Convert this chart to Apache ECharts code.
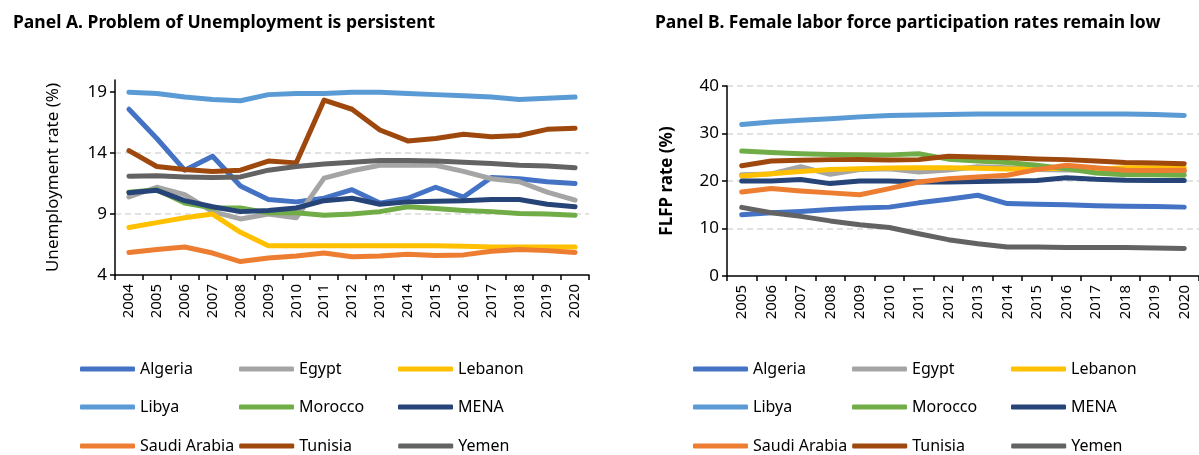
<!DOCTYPE html>
<html>
<head>
<meta charset="utf-8">
<script src="https://cdn.jsdelivr.net/npm/echarts@6/dist/echarts.min.js"></script>
<style>
  html, body { margin: 0; padding: 0; background: #fff; }
  #chart { width: 1199px; height: 455px; }
</style>
</head>
<body>
<div id="chart"></div>
<script>
// categories
const yearsA = ['2004', '2005', '2006', '2007', '2008', '2009', '2010', '2011', '2012', '2013', '2014', '2015', '2016', '2017', '2018', '2019', '2020'];
const yearsB = ['2005', '2006', '2007', '2008', '2009', '2010', '2011', '2012', '2013', '2014', '2015', '2016', '2017', '2018', '2019', '2020'];
const names = ['Algeria', 'Egypt', 'Lebanon', 'Libya', 'Morocco', 'MENA', 'Saudi Arabia', 'Tunisia', 'Yemen'];
const colors = ['#4472C4', '#A5A5A5', '#FFC000', '#5B9BD5', '#70AD47', '#264478', '#ED7D31', '#9E480E', '#636363'];
const ticksA = [4, 9, 14, 19];

// Panel A: unemployment rate (%)
const unempAlgeria = [17.6, 15.2, 12.6, 13.75, 11.3, 10.2, 10.0, 10.3, 11.0, 9.9, 10.3, 11.2, 10.4, 12.0, 11.9, 11.65, 11.5];
const unempEgypt = [10.4, 11.2, 10.6, 9.2, 8.6, 9.0, 8.7, 11.95, 12.55, 13.0, 13.0, 13.0, 12.5, 11.9, 11.65, 10.8, 10.15];
const unempLebanon = [7.9, 8.3, 8.7, 9.0, 7.5, 6.4, 6.4, 6.4, 6.4, 6.4, 6.4, 6.4, 6.35, 6.3, 6.3, 6.3, 6.3];
const unempLibya = [19.0, 18.9, 18.6, 18.4, 18.3, 18.8, 18.9, 18.9, 19.0, 19.0, 18.9, 18.8, 18.7, 18.6, 18.4, 18.5, 18.6];
const unempMorocco = [10.8, 11.0, 9.9, 9.5, 9.5, 9.1, 9.1, 8.9, 9.0, 9.2, 9.6, 9.45, 9.3, 9.2, 9.05, 9.0, 8.9];
const unempMENA = [10.75, 10.95, 10.1, 9.6, 9.2, 9.3, 9.5, 10.1, 10.3, 9.8, 10.0, 10.05, 10.1, 10.2, 10.2, 9.8, 9.6];
const unempSaudi = [5.85, 6.1, 6.3, 5.8, 5.1, 5.4, 5.55, 5.8, 5.5, 5.55, 5.7, 5.6, 5.65, 5.95, 6.1, 6.0, 5.85];
const unempTunisia = [14.2, 12.9, 12.65, 12.5, 12.6, 13.35, 13.2, 18.35, 17.6, 15.9, 15.0, 15.2, 15.55, 15.35, 15.45, 15.95, 16.05];
const unempYemen = [12.1, 12.15, 12.05, 12.0, 12.05, 12.6, 12.9, 13.1, 13.25, 13.4, 13.4, 13.35, 13.25, 13.15, 13.0, 12.95, 12.8];

// Panel B: female labour force participation rate (%)
const flfpAlgeria = [12.9, 13.3, 13.6, 14.0, 14.3, 14.5, 15.4, 16.15, 17.0, 15.25, 15.1, 15.0, 14.8, 14.7, 14.65, 14.5];
const flfpEgypt = [21.3, 21.5, 23.0, 21.4, 22.4, 22.6, 21.9, 22.3, 23.0, 22.8, 22.4, 22.3, 22.2, 22.0, 22.0, 22.0];
const flfpLebanon = [21.05, 21.55, 22.0, 22.4, 22.6, 22.75, 22.8, 22.8, 22.7, 22.55, 22.6, 22.7, 22.5, 22.8, 22.8, 22.8];
const flfpLibya = [31.9, 32.4, 32.8, 33.1, 33.5, 33.8, 33.9, 34.0, 34.1, 34.1, 34.1, 34.1, 34.1, 34.1, 34.0, 33.8];
const flfpMorocco = [26.3, 26.0, 25.75, 25.6, 25.55, 25.5, 25.75, 24.6, 24.2, 23.9, 23.3, 22.6, 21.7, 21.3, 21.3, 21.2];
const flfpMENA = [20.0, 20.0, 20.3, 19.45, 20.0, 20.0, 19.8, 19.8, 19.9, 20.0, 20.1, 20.7, 20.35, 20.15, 20.1, 20.1];
const flfpSaudi = [17.7, 18.4, 17.9, 17.5, 17.1, 18.4, 19.8, 20.5, 20.85, 21.2, 22.4, 23.3, 22.8, 22.25, 22.2, 22.25];
const flfpTunisia = [23.2, 24.2, 24.35, 24.5, 24.55, 24.4, 24.5, 25.2, 25.05, 24.9, 24.65, 24.5, 24.2, 23.9, 23.8, 23.65];
const flfpYemen = [14.45, 13.3, 12.55, 11.6, 10.8, 10.2, 8.9, 7.65, 6.8, 6.1, 6.1, 6.0, 6.0, 6.0, 5.9, 5.8];

const dataA = [unempAlgeria, unempEgypt, unempLebanon, unempLibya, unempMorocco, unempMENA, unempSaudi, unempTunisia, unempYemen];
const dataB = [flfpAlgeria, flfpEgypt, flfpLebanon, flfpLibya, flfpMorocco, flfpMENA, flfpSaudi, flfpTunisia, flfpYemen];

const FONT = 'Noto Sans';
const chart = echarts.init(document.getElementById('chart'));

const makeSeries = (data, idx) => data.map((vals, i) => ({
  name: names[i],
  type: 'line',
  xAxisIndex: idx,
  yAxisIndex: idx,
  data: vals,
  color: colors[i],
  symbol: 'none',
  lineStyle: { width: 5, cap: 'round', join: 'round' },
  animation: false
}));

// 3 legend rows per panel, so the columns line up like the original
const rowsTop = [359, 397, 436];
const makeLegends = (left) => [0, 1, 2].map(r => ({
  left: left,
  top: rowsTop[r],
  padding: 0,
  orient: 'horizontal',
  data: names.slice(r * 3, r * 3 + 3),
  icon: 'roundRect',
  itemWidth: 55,
  itemHeight: 5,
  itemGap: 5,
  selectedMode: false,
  textStyle: { fontFamily: FONT, fontSize: 16, color: '#000', width: 94, lineHeight: 20 }
}));

const xAxisBase = (data, grid) => ({
  type: 'category',
  gridIndex: grid,
  data: data,
  boundaryGap: true,
  axisLine: { lineStyle: { color: '#000', width: 1.5 } },
  axisTick: { show: true, length: 5, interval: 0, lineStyle: { color: '#000', width: 1.5 } },
  axisLabel: { rotate: 90, interval: 0, color: '#000', fontFamily: FONT, fontSize: 15, margin: 9 },
  splitLine: { show: false }
});

const option = {
  backgroundColor: '#fff',
  title: [
    { text: 'Panel A. Problem of Unemployment is persistent', left: 8, top: 9,
      textStyle: { fontFamily: FONT, fontSize: 17.5, fontWeight: 'bold', color: '#000' } },
    { text: 'Panel B. Female labor force participation rates remain low', left: 650, top: 9,
      textStyle: { fontFamily: FONT, fontSize: 17.5, fontWeight: 'bold', color: '#000' } }
  ],
  grid: [
    { left: 115, top: 80, width: 474, height: 195 },
    { left: 727, top: 86, width: 475, height: 190 }
  ],
  legend: [...makeLegends(80), ...makeLegends(693)],
  xAxis: [xAxisBase(yearsA, 0), xAxisBase(yearsB, 1)],
  yAxis: [
    {
      type: 'value', gridIndex: 0, min: 4, max: 20, interval: 5,
      name: 'Unemployment rate (%)', nameLocation: 'middle', nameGap: 53,
      nameTextStyle: { fontFamily: FONT, fontSize: 17, color: '#000' },
      axisLine: { show: true, lineStyle: { color: '#000', width: 1.5 } },
      axisTick: { show: true, length: 5, customValues: ticksA, lineStyle: { color: '#000', width: 1.5 } },
      axisLabel: { customValues: ticksA, color: '#000', fontFamily: FONT, fontSize: 17, margin: 8 },
      splitLine: { show: true, showMinLine: false, showMaxLine: false, lineStyle: { color: '#D9D9D9', width: 1.5, type: [6, 4] } }
    },
    {
      type: 'value', gridIndex: 1, min: 0, max: 40, interval: 10,
      name: 'FLFP rate (%)', nameLocation: 'middle', nameGap: 51,
      nameTextStyle: { fontFamily: FONT, fontSize: 17, fontWeight: 'bold', color: '#000' },
      axisLine: { show: true, lineStyle: { color: '#000', width: 1.5 } },
      axisTick: { show: true, length: 5, lineStyle: { color: '#000', width: 1.5 } },
      axisLabel: { color: '#000', fontFamily: FONT, fontSize: 17, margin: 8 },
      splitLine: { show: true, showMinLine: false, lineStyle: { color: '#D9D9D9', width: 1.5, type: [6, 4] } }
    }
  ],
  series: [...makeSeries(dataA, 0), ...makeSeries(dataB, 1)]
};

chart.setOption(option);
</script>
</body>
</html>
